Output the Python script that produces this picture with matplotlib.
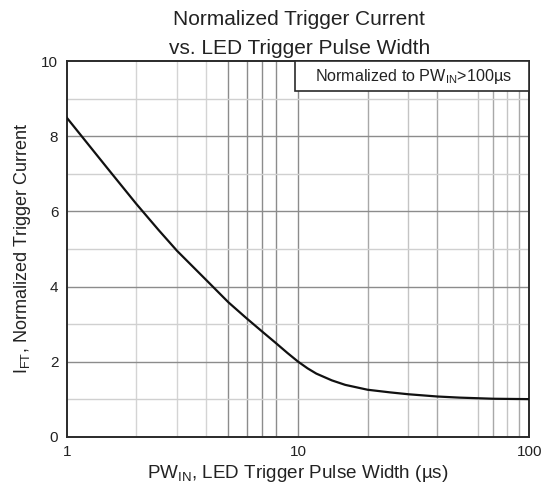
import numpy as np
import matplotlib
matplotlib.use("Agg")
import matplotlib.pyplot as plt
from matplotlib.patches import Rectangle

plt.rcParams['font.family'] = ['Liberation Sans', 'DejaVu Sans']
plt.rcParams['mathtext.fontset'] = 'custom'
plt.rcParams['mathtext.rm'] = 'Liberation Sans'
plt.rcParams['mathtext.it'] = 'Liberation Sans'

# curve
pw = [1, 1.5, 2, 2.5, 3, 4, 5, 6, 7, 8, 9, 10, 11, 12, 14, 16, 20, 25, 30, 40, 50, 70, 100]
ift = [8.5, 7.15, 6.2, 5.5, 4.95, 4.18, 3.58, 3.15, 2.8, 2.5, 2.23, 2.0, 1.82, 1.68,
       1.5, 1.38, 1.25, 1.18, 1.13, 1.07, 1.04, 1.01, 1.0]

x_dark = [5, 6, 7, 8, 10]
x_light = [2, 3, 4]
x_mid = [20, 40, 70, 90]
x_pale = [30, 60, 80]
y_major = [2, 4, 6, 8]
y_minor = [1, 3, 5, 7, 9]

fig = plt.figure(figsize=(5.41, 4.86), dpi=100)
ax = fig.add_axes([0.1233, 0.1015, 0.8551, 0.7724])

ax.set_xscale('log')
ax.set_xlim(1, 100)
ax.set_ylim(0, 10)

for v in x_light:
    ax.axvline(v, color='#d4d4d4', lw=1.0, zorder=1)
for v in x_dark:
    ax.axvline(v, color='#8c8c8c', lw=1.0, zorder=1)
for v in x_mid:
    ax.axvline(v, color='#a8a8a8', lw=1.0, zorder=1)
for v in x_pale:
    ax.axvline(v, color='#c4c4c4', lw=1.0, zorder=1)
for v in y_major:
    ax.axhline(v, color='#8c8c8c', lw=1.0, zorder=1)
for v in y_minor:
    ax.axhline(v, color='#d0d0d0', lw=1.0, zorder=1)

ax.plot(pw, ift, color='#111111', lw=1.6, zorder=3)

ax.set_xticks([1, 10, 100])
ax.set_xticklabels(['1', '10', '100'])
ax.minorticks_off()
ax.set_yticks([0, 2, 4, 6, 8, 10])
ax.tick_params(length=0, labelsize=11, colors='#222222', pad=6)

for s in ax.spines.values():
    s.set_color('#2a2a2a')
    s.set_linewidth(1.4)

ax.add_patch(Rectangle((0.4935, 0.921), 0.5065, 0.079, transform=ax.transAxes,
                       facecolor='white', edgecolor='#2a2a2a', lw=1.2, zorder=4,
                       clip_on=False))
ax.text(0.749, 0.9605, r'Normalized to PW$_{\mathregular{IN}}$>100µs', transform=ax.transAxes,
        ha='center', va='center', fontsize=11.6, color='#222222', zorder=5)

fig.text(0.553, 0.959, 'Normalized Trigger Current', ha='center', va='center',
         fontsize=15, color='#222222')
fig.text(0.553, 0.901, 'vs. LED Trigger Pulse Width', ha='center', va='center',
         fontsize=15, color='#222222')
ax.set_xlabel(r'PW$_{\mathregular{IN}}$, LED Trigger Pulse Width (µs)', fontsize=13.6,
              color='#222222', labelpad=3)
ax.set_ylabel(r'I$_{\mathregular{FT}}$, Normalized Trigger Current', fontsize=13,
              color='#222222', labelpad=6)

fig.savefig('out.png', dpi=100)
